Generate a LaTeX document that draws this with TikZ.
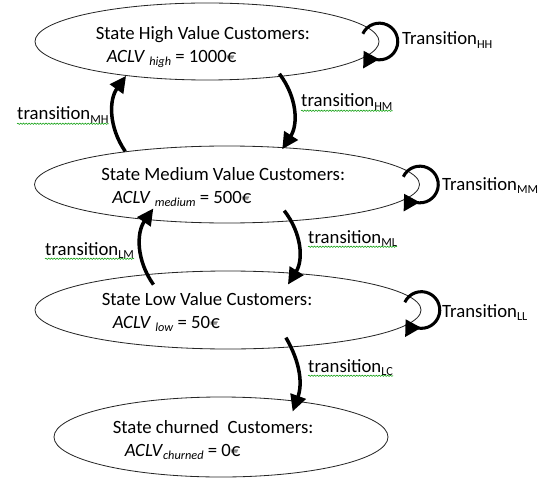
\documentclass[tikz,border=0pt]{standalone}
\usepackage{fontspec}
\setmainfont{Carlito}
\usepackage{tikz}
\usetikzlibrary{arrows.meta,shapes.geometric,decorations.pathmorphing}
\newcommand{\trsub}[1]{\raisebox{-2.6pt}{\fontsize{10.5}{12}\selectfont #1}}
\tikzset{
 cs state/.style={ellipse,draw=black!85,line width=.7pt,inner sep=0pt},
 cs text/.style={anchor=base west,inner sep=0pt,font=\fontsize{16}{19}\selectfont},
 cs arrow/.style={line width=3pt,-{Triangle[length=14pt,width=13.5pt]}},
 cs loop/.style={line width=2.6pt,-{Triangle[length=13pt,width=15pt]}},
 cs squiggle/.style={draw=green!60!black,line width=.45pt,decorate,
                     decoration={snake,amplitude=.55pt,segment length=2.4pt}}
}
\begin{document}
\begin{tikzpicture}[x=.03cm,y=-.03cm]
 % coordinates are the pixels of the 545x484 sketch, y pointing down
 \useasboundingbox (0,0) rectangle (545,484);

 \node[cs state,minimum width=10.32cm,minimum height=2.31cm] (high) at (207,41.5) {};
 \node[cs state,minimum width=11.55cm,minimum height=2.31cm] (medium) at (227,184.5) {};
 \node[cs state,minimum width=11.58cm,minimum height=2.34cm] (low) at (228,310) {};
 \node[cs state,minimum width=10.02cm,minimum height=2.40cm] (churned) at (221,437) {};

 \node[cs text] (high title) at ([shift={(61,-2)}]high.west) {State High Value Customers:};
 \node[cs text] (high value) at ([shift={(72,21)}]high.west) {\textit{ACLV} \trsub{\textit{high}} = 1000€};
 \node[cs text] (medium title) at ([shift={(67,-4.5)}]medium.west) {State Medium Value Customers:};
 \node[cs text] (medium value) at ([shift={(78,18.5)}]medium.west) {\textit{ACLV} \trsub{\textit{medium}} = 500€};
 \node[cs text] (low title) at ([shift={(67,-5)}]low.west) {State Low Value Customers:};
 \node[cs text] (low value) at ([shift={(78,18)}]low.west) {\textit{ACLV} \trsub{\textit{low}} = 50€};
 \node[cs text] (churned title) at ([shift={(59,-4)}]churned.west) {State churned~ Customers:};
 \node[cs text] (churned value) at ([shift={(71,19)}]churned.west) {\textit{ACLV}\trsub{\textit{churned}} = 0€};

 \draw[cs arrow] (medium.162) to[bend left=35] (high.-157);
 \draw[cs arrow] ([shift={(0,-3)}]high.-26) to[bend left=35] ([shift={(0,2)}]medium.34);
 \draw[cs arrow] ([shift={(0,11)}]low.154) to[bend left=35] ([shift={(0,-12)}]medium.-154);
 \draw[cs arrow] ([shift={(0,-11)}]medium.-33) to[bend left=35] ([shift={(0,12)}]low.32);
 \draw[cs arrow] ([shift={(0,-10)}]low.-33) to[bend left=25] ([shift={(0,11)}]churned.27);

 \draw[cs loop] ([shift={(155:.55cm)}]high.east) arc[start angle=155,end angle=-150,radius=.55cm];
 \draw[cs loop] ([shift={(155:.55cm)}]medium.east) arc[start angle=155,end angle=-150,radius=.55cm];
 \draw[cs loop] ([shift={(155:.55cm)}]low.east) arc[start angle=155,end angle=-150,radius=.55cm];

 \node[cs text] (lbl-hh) at (402,45) {Transition\trsub{HH}};
 \node[cs text] (lbl-mm) at (442,190) {Transition\trsub{MM}};
 \node[cs text] (lbl-ll) at (442,317) {Transition\trsub{LL}};
 \node[cs text] (lbl-mh) at (17,120) {transition\trsub{MH}};
 \node[cs text] (lbl-hm) at (301,107) {transition\trsub{HM}};
 \node[cs text] (lbl-lm) at (45,255) {transition\trsub{LM}};
 \node[cs text] (lbl-ml) at (308,243) {transition\trsub{ML}};
 \node[cs text] (lbl-lc) at (308,372) {transition\trsub{LC}};
 \foreach \l in {mh,hm,lm,ml,lc}
  \draw[cs squiggle] ([yshift=-3.2pt]lbl-\l.base west) -- ([yshift=-3.2pt]lbl-\l.base east);
\end{tikzpicture}
\end{document}
